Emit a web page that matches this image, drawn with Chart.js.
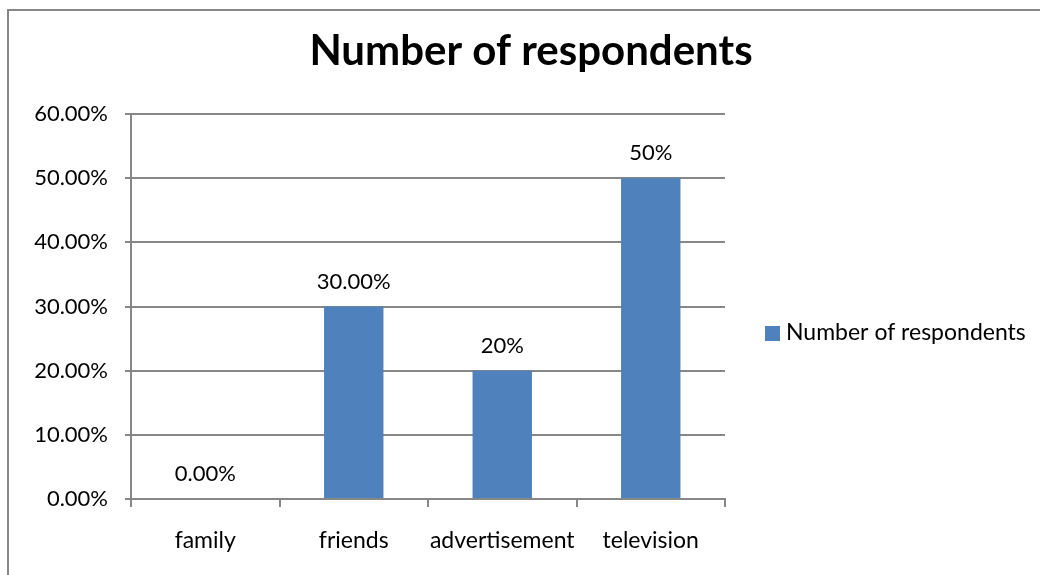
<!DOCTYPE html>
<html>
<head>
<meta charset="utf-8">
<script src="https://cdn.jsdelivr.net/npm/chart.js@4"></script>
<style>
  html, body { margin: 0; padding: 0; background: #fff; }
  #wrap { width: 1040px; height: 575px; position: relative; }
</style>
</head>
<body>
<div id="wrap"><canvas id="chart"></canvas></div>
<script>
// Respondents by source of information
const categories = ['family', 'friends', 'advertisement', 'television'];
const shares = [0, 30, 20, 50];
const valueLabels = ['0.00%', '30.00%', '20%', '50%'];
const seriesName = 'Number of respondents';
const chartTitle = 'Number of respondents';

const FONT = 'Lato, "Open Sans", sans-serif';
const BAR_COLOR = '#4F81BD';
const LINE_COLOR = '#878787';

// frame, title, value labels and the legend are painted by hand
const decorPlugin = {
  id: 'decor',
  beforeDraw(chart) {
    const { ctx } = chart;
    ctx.save();
    ctx.fillStyle = '#fff';
    ctx.fillRect(0, 0, chart.width, chart.height);
    ctx.strokeStyle = LINE_COLOR;
    ctx.lineWidth = 2;
    ctx.strokeRect(8, 10, 1200, 800);
    ctx.restore();
  },
  afterDatasetsDraw(chart) {
    const { ctx } = chart;
    const meta = chart.getDatasetMeta(0);
    ctx.save();

    // title
    ctx.fillStyle = '#000';
    ctx.font = 'bold 42px ' + FONT;
    ctx.textAlign = 'center';
    ctx.textBaseline = 'alphabetic';
    ctx.fillText(chartTitle, 531, 65);

    // value labels above bars
    ctx.font = '22px ' + FONT;
    meta.data.forEach((bar, i) => {
      ctx.fillText(valueLabels[i], bar.x, bar.y - 18);
    });

    // legend
    ctx.fillStyle = BAR_COLOR;
    ctx.fillRect(765, 326, 15, 15);
    ctx.fillStyle = '#000';
    ctx.font = '23px ' + FONT;
    ctx.textAlign = 'left';
    ctx.textBaseline = 'middle';
    ctx.fillText(seriesName, 786, 333);
    ctx.restore();
  }
};

new Chart(document.getElementById('chart'), {
  type: 'bar',
  data: {
    labels: categories,
    datasets: [{
      label: seriesName,
      data: shares,
      backgroundColor: BAR_COLOR,
      borderWidth: 0,
      barPercentage: 0.4,
      categoryPercentage: 1.0
    }]
  },
  options: {
    responsive: true,
    maintainAspectRatio: false,
    animation: false,
    layout: { padding: { left: 0, top: 114, right: 315, bottom: 0 } },
    plugins: {
      legend: { display: false },
      title: { display: false },
      tooltip: { enabled: false }
    },
    scales: {
      x: {
        afterFit(scale) { scale.height = 76; },
        grid: {
          drawOnChartArea: false,
          drawTicks: true,
          tickLength: 8,
          color: LINE_COLOR,
          lineWidth: 2
        },
        border: { color: LINE_COLOR, width: 2 },
        ticks: {
          color: '#000',
          font: { family: FONT, size: 23 },
          padding: 20,
          maxRotation: 0
        }
      },
      y: {
        min: 0,
        max: 60,
        afterFit(scale) { scale.width = 131; },
        grid: {
          color: LINE_COLOR,
          lineWidth: 2,
          tickLength: 6
        },
        border: { color: LINE_COLOR, width: 2 },
        ticks: {
          stepSize: 10,
          color: '#000',
          font: { family: FONT, size: 22 },
          padding: 17,
          callback: (v) => v.toFixed(2) + '%'
        }
      }
    }
  },
  plugins: [decorPlugin]
});
</script>
</body>
</html>
